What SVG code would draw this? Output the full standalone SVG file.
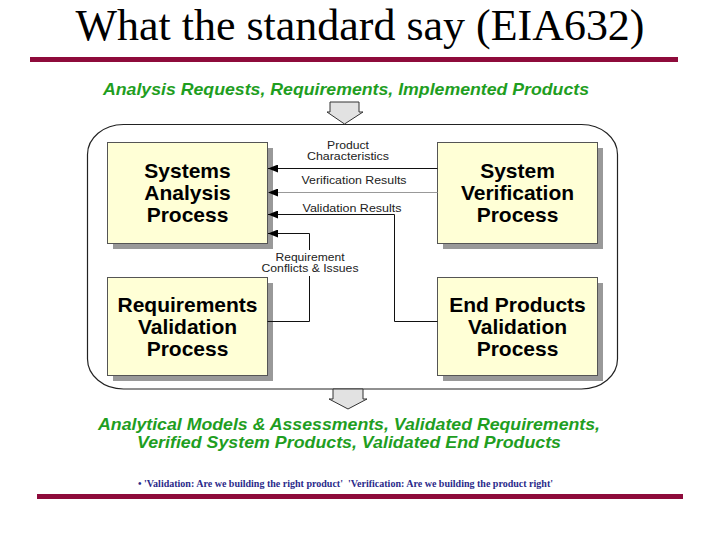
<svg xmlns="http://www.w3.org/2000/svg" width="720" height="540" viewBox="0 0 720 540">
  <defs>
    <style>
      .title { font-family: "Liberation Serif", "Times New Roman", serif; font-size: 44px; fill: #000; }
      .green { font-family: "Liberation Sans", Arial, sans-serif; font-size: 17px; font-weight: bold; font-style: italic; fill: #1f9e1f; }
      .box { fill: #ffffd6; stroke: #555; stroke-width: 1; }
      .shadow { fill: #999; }
      .btext { font-family: "Liberation Sans", Arial, sans-serif; font-size: 21px; font-weight: bold; fill: #000; text-anchor: middle; }
      .lbl { font-family: "Liberation Sans", Arial, sans-serif; font-size: 11px; fill: #222; text-anchor: middle; }
      .conn { fill: none; stroke: #111; stroke-width: 1; }
      .conn-light { fill: none; stroke: #999; stroke-width: 1; }
      .bigarrow { fill: #e2e2e2; stroke: #333; stroke-width: 1; }
      .rule { fill: #8e0b3b; }
      .note { font-family: "Liberation Serif", "Times New Roman", serif; font-size: 10px; font-weight: bold; fill: #2a2a8a; }
    </style>
    <marker id="ah" viewBox="0 0 10 8" refX="10" refY="4" markerWidth="10" markerHeight="8" markerUnits="userSpaceOnUse" orient="auto">
      <path d="M0,0 L10,4 L0,8 z" fill="#000"/>
    </marker>
  </defs>

  <rect width="720" height="540" fill="#fff"/>

  <!-- Title -->
  <text class="title" x="360" y="40" text-anchor="middle" textLength="569" lengthAdjust="spacingAndGlyphs">What the standard say (EIA632)</text>
  <rect class="rule" x="30" y="57" width="648" height="5"/>

  <!-- Top inputs -->
  <text class="green" x="103" y="95" textLength="486" lengthAdjust="spacingAndGlyphs">Analysis Requests, Requirements, Implemented Products</text>

  <!-- Container -->
  <g id="container">
    <rect x="87.5" y="124.5" width="530" height="264.5" rx="36" ry="30" fill="none" stroke="#222" stroke-width="1.2"/>
  </g>

  <!-- Top block arrow -->
  <g id="arrow-in">
    <polygon class="bigarrow" points="330,102 359,102 359,112 363,112 344.5,124 327,112 330,112"/>
  </g>

  <!-- Bottom block arrow -->
  <g id="arrow-out">
    <polygon class="bigarrow" points="333,389 363,389 363,399 367,399 348,409 329,399 333,399"/>
  </g>

  <!-- Nodes -->
  <g id="systems-analysis">
    <rect class="shadow" x="113" y="148" width="160" height="101"/>
    <rect class="box" x="107.5" y="142.5" width="160" height="101"/>
    <text class="btext" x="187.5" y="177.5">Systems</text>
    <text class="btext" x="187.5" y="199.5">Analysis</text>
    <text class="btext" x="187.5" y="221.5">Process</text>
  </g>

  <g id="system-verification">
    <rect class="shadow" x="443" y="148" width="160" height="101"/>
    <rect class="box" x="437.5" y="142.5" width="160" height="101"/>
    <text class="btext" x="517.5" y="177.5">System</text>
    <text class="btext" x="517.5" y="199.5">Verification</text>
    <text class="btext" x="517.5" y="221.5">Process</text>
  </g>

  <g id="requirements-validation">
    <rect class="shadow" x="113" y="283" width="160" height="98"/>
    <rect class="box" x="107.5" y="277.5" width="160" height="98"/>
    <text class="btext" x="187.5" y="311.5">Requirements</text>
    <text class="btext" x="187.5" y="333.5">Validation</text>
    <text class="btext" x="187.5" y="355.5">Process</text>
  </g>

  <g id="end-products-validation">
    <rect class="shadow" x="443" y="283" width="160" height="98"/>
    <rect class="box" x="437.5" y="277.5" width="160" height="98"/>
    <text class="btext" x="517.5" y="311.5">End Products</text>
    <text class="btext" x="517.5" y="333.5">Validation</text>
    <text class="btext" x="517.5" y="355.5">Process</text>
  </g>

  <!-- Connectors -->
  <g id="connectors">
    <path class="conn" d="M437.5,168.5 L268,168.5" marker-end="url(#ah)"/>
    <path class="conn-light" d="M437.5,192.5 L268,192.5" marker-end="url(#ah)"/>
    <path class="conn" d="M437.5,321.5 L394.5,321.5 L394.5,214.5 L268,214.5" marker-end="url(#ah)"/>
    <path class="conn" d="M267.5,321.5 L309.5,321.5 L309.5,276"/>
    <path class="conn" d="M309.5,250 L309.5,233.5 L268,233.5" marker-end="url(#ah)"/>

    <text class="lbl" x="348" y="149" textLength="42" lengthAdjust="spacingAndGlyphs">Product</text>
    <text class="lbl" x="348" y="159.5" textLength="82" lengthAdjust="spacingAndGlyphs">Characteristics</text>
    <text class="lbl" x="354" y="184" textLength="105" lengthAdjust="spacingAndGlyphs">Verification Results</text>
    <text class="lbl" x="352" y="211.5" textLength="99" lengthAdjust="spacingAndGlyphs">Validation Results</text>
    <text class="lbl" x="310" y="261" textLength="69" lengthAdjust="spacingAndGlyphs">Requirement</text>
    <text class="lbl" x="310" y="271.5" textLength="97" lengthAdjust="spacingAndGlyphs">Conflicts &amp; Issues</text>
  </g>

  <!-- Outputs -->
  <text class="green" x="98" y="430" textLength="502" lengthAdjust="spacingAndGlyphs">Analytical Models &amp; Assessments, Validated Requirements,</text>
  <text class="green" x="137" y="448" textLength="424" lengthAdjust="spacingAndGlyphs">Verified System Products, Validated End Products</text>

  <!-- Footnote -->
  <text class="note" x="138" y="487" textLength="415" lengthAdjust="spacingAndGlyphs" xml:space="preserve">• 'Validation: Are we building the right product'  'Verification: Are we building the product right'</text>
  <rect class="rule" x="37" y="494" width="646" height="5"/>
</svg>
